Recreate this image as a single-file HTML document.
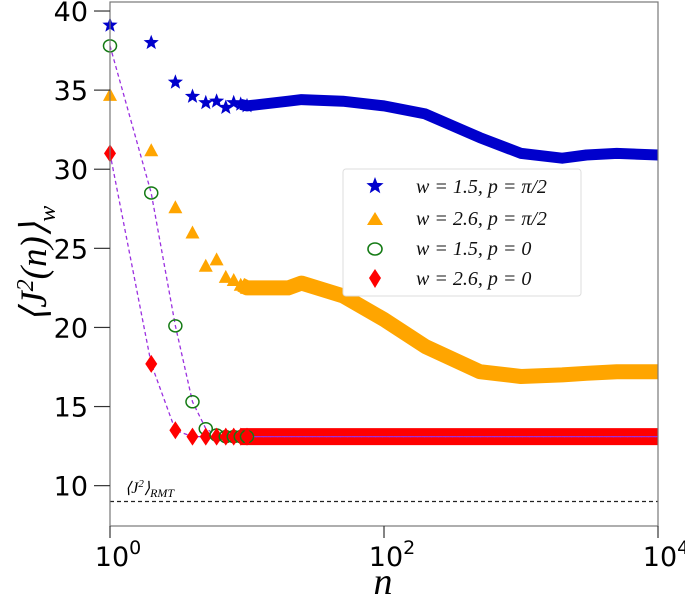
<!DOCTYPE html>
<html><head><meta charset="utf-8"><style>
body{margin:0;background:#fff;}
svg{display:block;font-family:"DejaVu Sans","Liberation Sans",sans-serif;}
.tick{font-size:27px;fill:#000;}
.leg{font-family:"Liberation Serif",serif;font-style:italic;font-size:20px;fill:#111;}
</style></head><body>
<svg id="chart" width="685" height="602" viewBox="0 0 685 602" xmlns="http://www.w3.org/2000/svg">
<g id="marks"></g>
<rect x="110" y="2" width="548" height="524" fill="none" stroke="#777" stroke-width="1.2"/>
<g id="axes"></g>
<text transform="translate(46,264) rotate(-90)" text-anchor="middle" font-family="Liberation Serif, serif" font-size="37" font-style="italic">⟨J<tspan font-size="24" dy="-13">2</tspan><tspan dy="13">(n)⟩</tspan><tspan font-size="24" dy="9">w</tspan></text>
<text x="383" y="594" text-anchor="middle" font-family="Liberation Serif, serif" font-size="38" font-style="italic">n</text>
<text x="125" y="493" font-family="Liberation Serif, serif" font-size="16" font-style="italic">⟨J<tspan font-size="11" dy="-6">2</tspan><tspan dy="6">⟩</tspan><tspan font-size="12" dy="4">RMT</tspan></text>
<g>
<rect x="343" y="169" width="238" height="127" rx="3" fill="#fff" stroke="#ddd"/>
<g><polygon id="lgstar" fill="#0000cc"/><text class="leg" x="416" y="193">w = 1.5, p = π/2</text></g>
<g><polygon points="375,212 367,225 383,225" fill="#ffa500"/><text class="leg" x="416" y="225">w = 2.6, p = π/2</text></g>
<g><ellipse cx="375" cy="249" rx="7" ry="6" fill="none" stroke="#137a13" stroke-width="1.6"/><text class="leg" x="416" y="255">w = 1.5, p = 0</text></g>
<g><polygon points="375,269 381,278 375,288 369,278" fill="#f00"/><text class="leg" x="416" y="285">w = 2.6, p = 0</text></g>
</g>
</svg>
<script>
const nVals=[1,2,3,4,5,6,7,8,9,10,20,25,50,100,200,500,1000,2000,3000,5000,10000];
const starVals=[39.1,38.0,35.5,34.6,34.2,34.3,33.9,34.2,34.1,34.0,34.3,34.4,34.3,34.0,33.5,32.0,31.0,30.7,30.9,31.0,30.9];
const triVals=[34.7,31.2,27.6,26.0,23.9,24.3,23.2,23.0,22.7,22.5,22.5,22.8,22.0,20.5,18.8,17.2,16.9,17.0,17.1,17.2,17.2];
const circVals=[37.8,28.5,20.1,15.3,13.6,13.2,13.1,13.1,13.1,13.1,13.1,13.1,13.1,13.1,13.1,13.1,13.1,13.1,13.1,13.1,13.1];
const diaVals=[31.0,17.7,13.5,13.1,13.1,13.1,13.1,13.1,13.1,13.1,13.1,13.1,13.1,13.1,13.1,13.1,13.1,13.1,13.1,13.1,13.1];
const yTicks=[10,15,20,25,30,35,40];
const xTicks=[0,2,4];
const rmtVal=9;
const NS="http://www.w3.org/2000/svg";
const X0=110,X1=658,Y0=2,Y1=526,YMIN=7.45,YMAX=40.57;
const xs=n=>X0+Math.log10(n)/4*(X1-X0);
const ys=v=>Y1-(v-YMIN)/(YMAX-YMIN)*(Y1-Y0);
const marks=document.getElementById('marks'),axes=document.getElementById('axes');
function mk(tag,attrs,parent){const e=document.createElementNS(NS,tag);for(const k in attrs)e.setAttribute(k,attrs[k]);parent.appendChild(e);return e;}
function starPts(cx,cy,R){let p=[];for(let i=0;i<10;i++){const r=i%2?R*0.42:R;const a=-Math.PI/2+i*Math.PI/5;p.push((cx+r*Math.cos(a)).toFixed(1)+','+(cy+r*Math.sin(a)).toFixed(1));}return p.join(' ');}
document.getElementById('lgstar').setAttribute('points',starPts(375,186,9));
const rl=mk('line',{x1:X0,x2:X1,y1:ys(rmtVal),y2:ys(rmtVal),stroke:'#222','stroke-width':1.2,'stroke-dasharray':'4,3'},marks);


function band(vals,color,w,name){
  let d='';nVals.forEach((n,i)=>{if(n>=9)d+=(d?'L':'M')+xs(n).toFixed(1)+','+ys(vals[i]).toFixed(1);});
  const p=mk('path',{d:d,fill:'none',stroke:color,'stroke-width':w,'stroke-linejoin':'round','stroke-linecap':'butt'},marks);
  
  
}
band(triVals,'#ffa500',15,'band-w2.6-p-pi2');
band(starVals,'#0000cc',11,'band-w1.5-p-pi2');
band(diaVals,'#f00',17,'band-w2.6-p0');
function guide(vals,name){
  let d='';nVals.forEach((n,i)=>{d+=(d?'L':'M')+xs(n).toFixed(1)+','+ys(vals[i]).toFixed(1);});
  const p=mk('path',{d:d,fill:'none',stroke:'#9b30e0','stroke-width':1.3,'stroke-dasharray':'4,3'},marks);
  
  
}
guide(circVals,'guide-w1.5-p0');
guide(diaVals,'guide-w2.6-p0');
nVals.forEach((n,i)=>{
  if(n>10)return;
  const x=xs(n);
  let y=ys(triVals[i]);
  const t=mk('polygon',{points:`${x},${y-7} ${x-7},${y+6} ${x+7},${y+6}`,fill:'#ffa500'},marks);
  
  
  y=ys(starVals[i]);
  const s=mk('polygon',{points:starPts(x,y,8),fill:'#0000cc'},marks);
  
  
  y=ys(circVals[i]);
  const c=mk('ellipse',{cx:x,cy:y,rx:6.5,ry:6,fill:'none',stroke:'#137a13','stroke-width':1.5},marks);
  
  
  y=ys(diaVals[i]);
  const dm=mk('polygon',{points:`${x},${y-9} ${x+6},${y} ${x},${y+9} ${x-6},${y}`,fill:'#f00'},marks);
  
  
});
yTicks.forEach(v=>{
  const y=ys(v);
  const l=mk('line',{x1:X0-16,x2:X0,y1:y,y2:y,stroke:'#333','stroke-width':1.2},axes);
  
  
  const t=mk('text',{x:X0-22,y:y+10,'text-anchor':'end',class:'tick'},axes);
  t.textContent=v;
  
  
});
xTicks.forEach(e=>{
  const x=xs(Math.pow(10,e));
  const l=mk('line',{x1:x,x2:x,y1:Y1,y2:Y1+12,stroke:'#333','stroke-width':1.2},axes);
  
  
  const t=mk('text',{x:x+8,y:Y1+40,'text-anchor':'middle',class:'tick'},axes);
  t.innerHTML='10<tspan font-size="19" dy="-12">'+e+'</tspan>';
  
  
});
</script>
</body></html>
